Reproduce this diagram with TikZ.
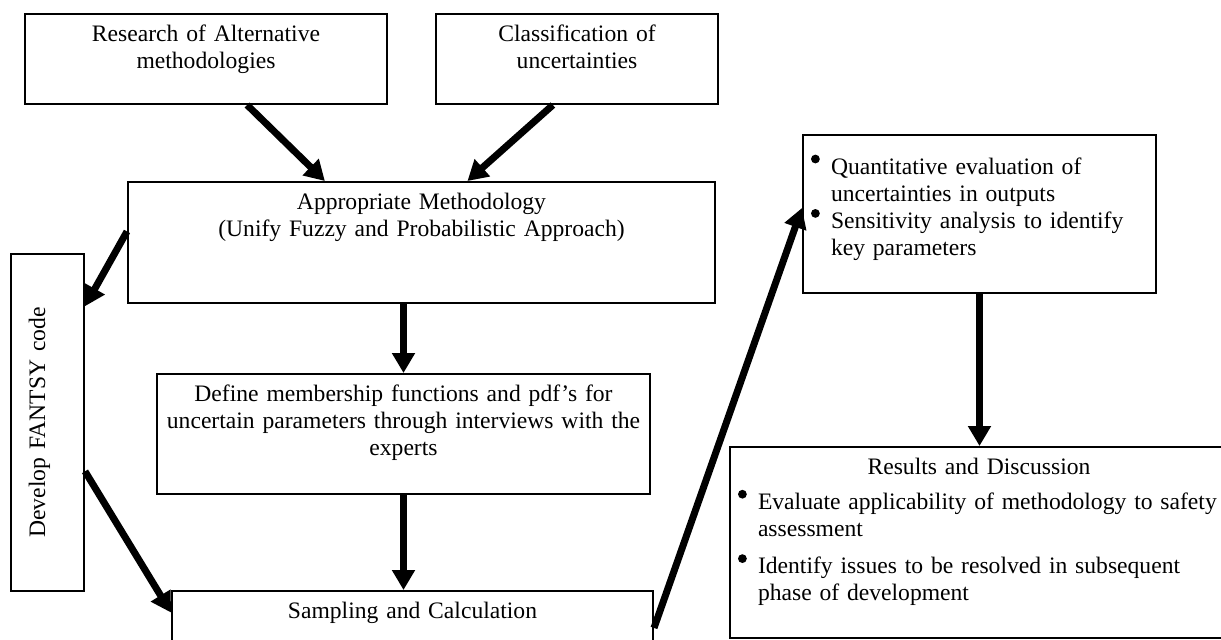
\documentclass[tikz,border=0pt]{standalone}
\usepackage{fontspec}
\setmainfont{Liberation Serif}
\usetikzlibrary{arrows.meta,calc}

\newcommand{\bulpara}[1]{\hangindent=10pt\hangafter=1\noindent\makebox[10pt][l]{\tikz[baseline=0pt]\fill (2.2pt,7.5pt) circle (2.2pt);}#1\par}

\begin{document}
\begin{tikzpicture}[x=0.5pt,y=-0.5pt,
    font=\fontsize{11.8}{13.6}\selectfont,
    box/.style={draw,line width=1pt,inner xsep=2pt,inner ysep=4pt,text height=9.5pt,align=center},
    flow/.style={line width=3.5pt,-{Triangle[length=10pt,width=11pt]}},
    ]
\useasboundingbox (0,0) rectangle (1221,639);

\node[box,text width=177pt,text depth=27.5pt] (res) at (206,59) {Research of Alternative\\methodologies};
\node[box,text width=137pt,text depth=27.5pt] (cls) at (577,59) {Classification of\\uncertainties};
\node[box,text width=289.5pt,text depth=43pt] (appr) at (421.5,242.5) {Appropriate Methodology\\(Unify Fuzzy and Probabilistic Approach)};
\node[box,rotate=90,text width=164.5pt,text height=13pt,text depth=15.5pt] (dev) at (47.5,422.5) {Develop FANTSY code};
\node[box,text width=242.5pt,text depth=42.5pt] (def) at (403.5,434) {Define membership functions and pdf’s for\\uncertain parameters through interviews with the\\experts};
\node[box,text width=236.5pt,text depth=22.5pt] (samp) at (412.5,631) {Sampling and Calculation};

% outputs
\node[box,align=left,inner xsep=4pt,text width=168.5pt,text height=15.5pt,text depth=55.5pt] (quant) at (979.5,214) {%
  \bulpara{Quantitative evaluation of\newline uncertainties in outputs}%
  \bulpara{Sensitivity analysis to identify\newline key parameters}};
\node[box,align=left,inner xsep=4pt,text width=257pt,text depth=78pt] (results) at (995,542.5) {%
  {\centering\hspace*{-16pt}Results and Discussion\par}\vspace{4pt}%
  \bulpara{Evaluate applicability of methodology to safety\newline assessment}\vspace{5pt}%
  \bulpara{Identify issues to be resolved in subsequent\newline phase of development}};

\draw[flow] ($(res.south west)!0.613!(res.south east)$) -- ($(appr.north west)!0.336!(appr.north east)$);
\draw[flow] ($(cls.south west)!0.415!(cls.south east)$) -- ($(appr.north west)!0.578!(appr.north east)$);
\draw[flow] ($(appr.north west)!0.41!(appr.south west)$) -- ($(dev.south east)!0.157!(dev.south west)$);
\draw[flow] (def.north |- appr.south) -- (def.north);
\draw[flow] (def.south) -- (def.south |- samp.north);
\draw[flow] ($(dev.south east)!0.644!(dev.south west)$) -- ($(samp.north west)!0.275!(samp.south west)$);
\draw[flow] ($(samp.north east)!0.4625!(samp.south east)$) -- ($(quant.north west)!0.462!(quant.south west)$);
\draw[flow] (quant.south) -- (quant.south |- results.north);
\end{tikzpicture}
\end{document}
